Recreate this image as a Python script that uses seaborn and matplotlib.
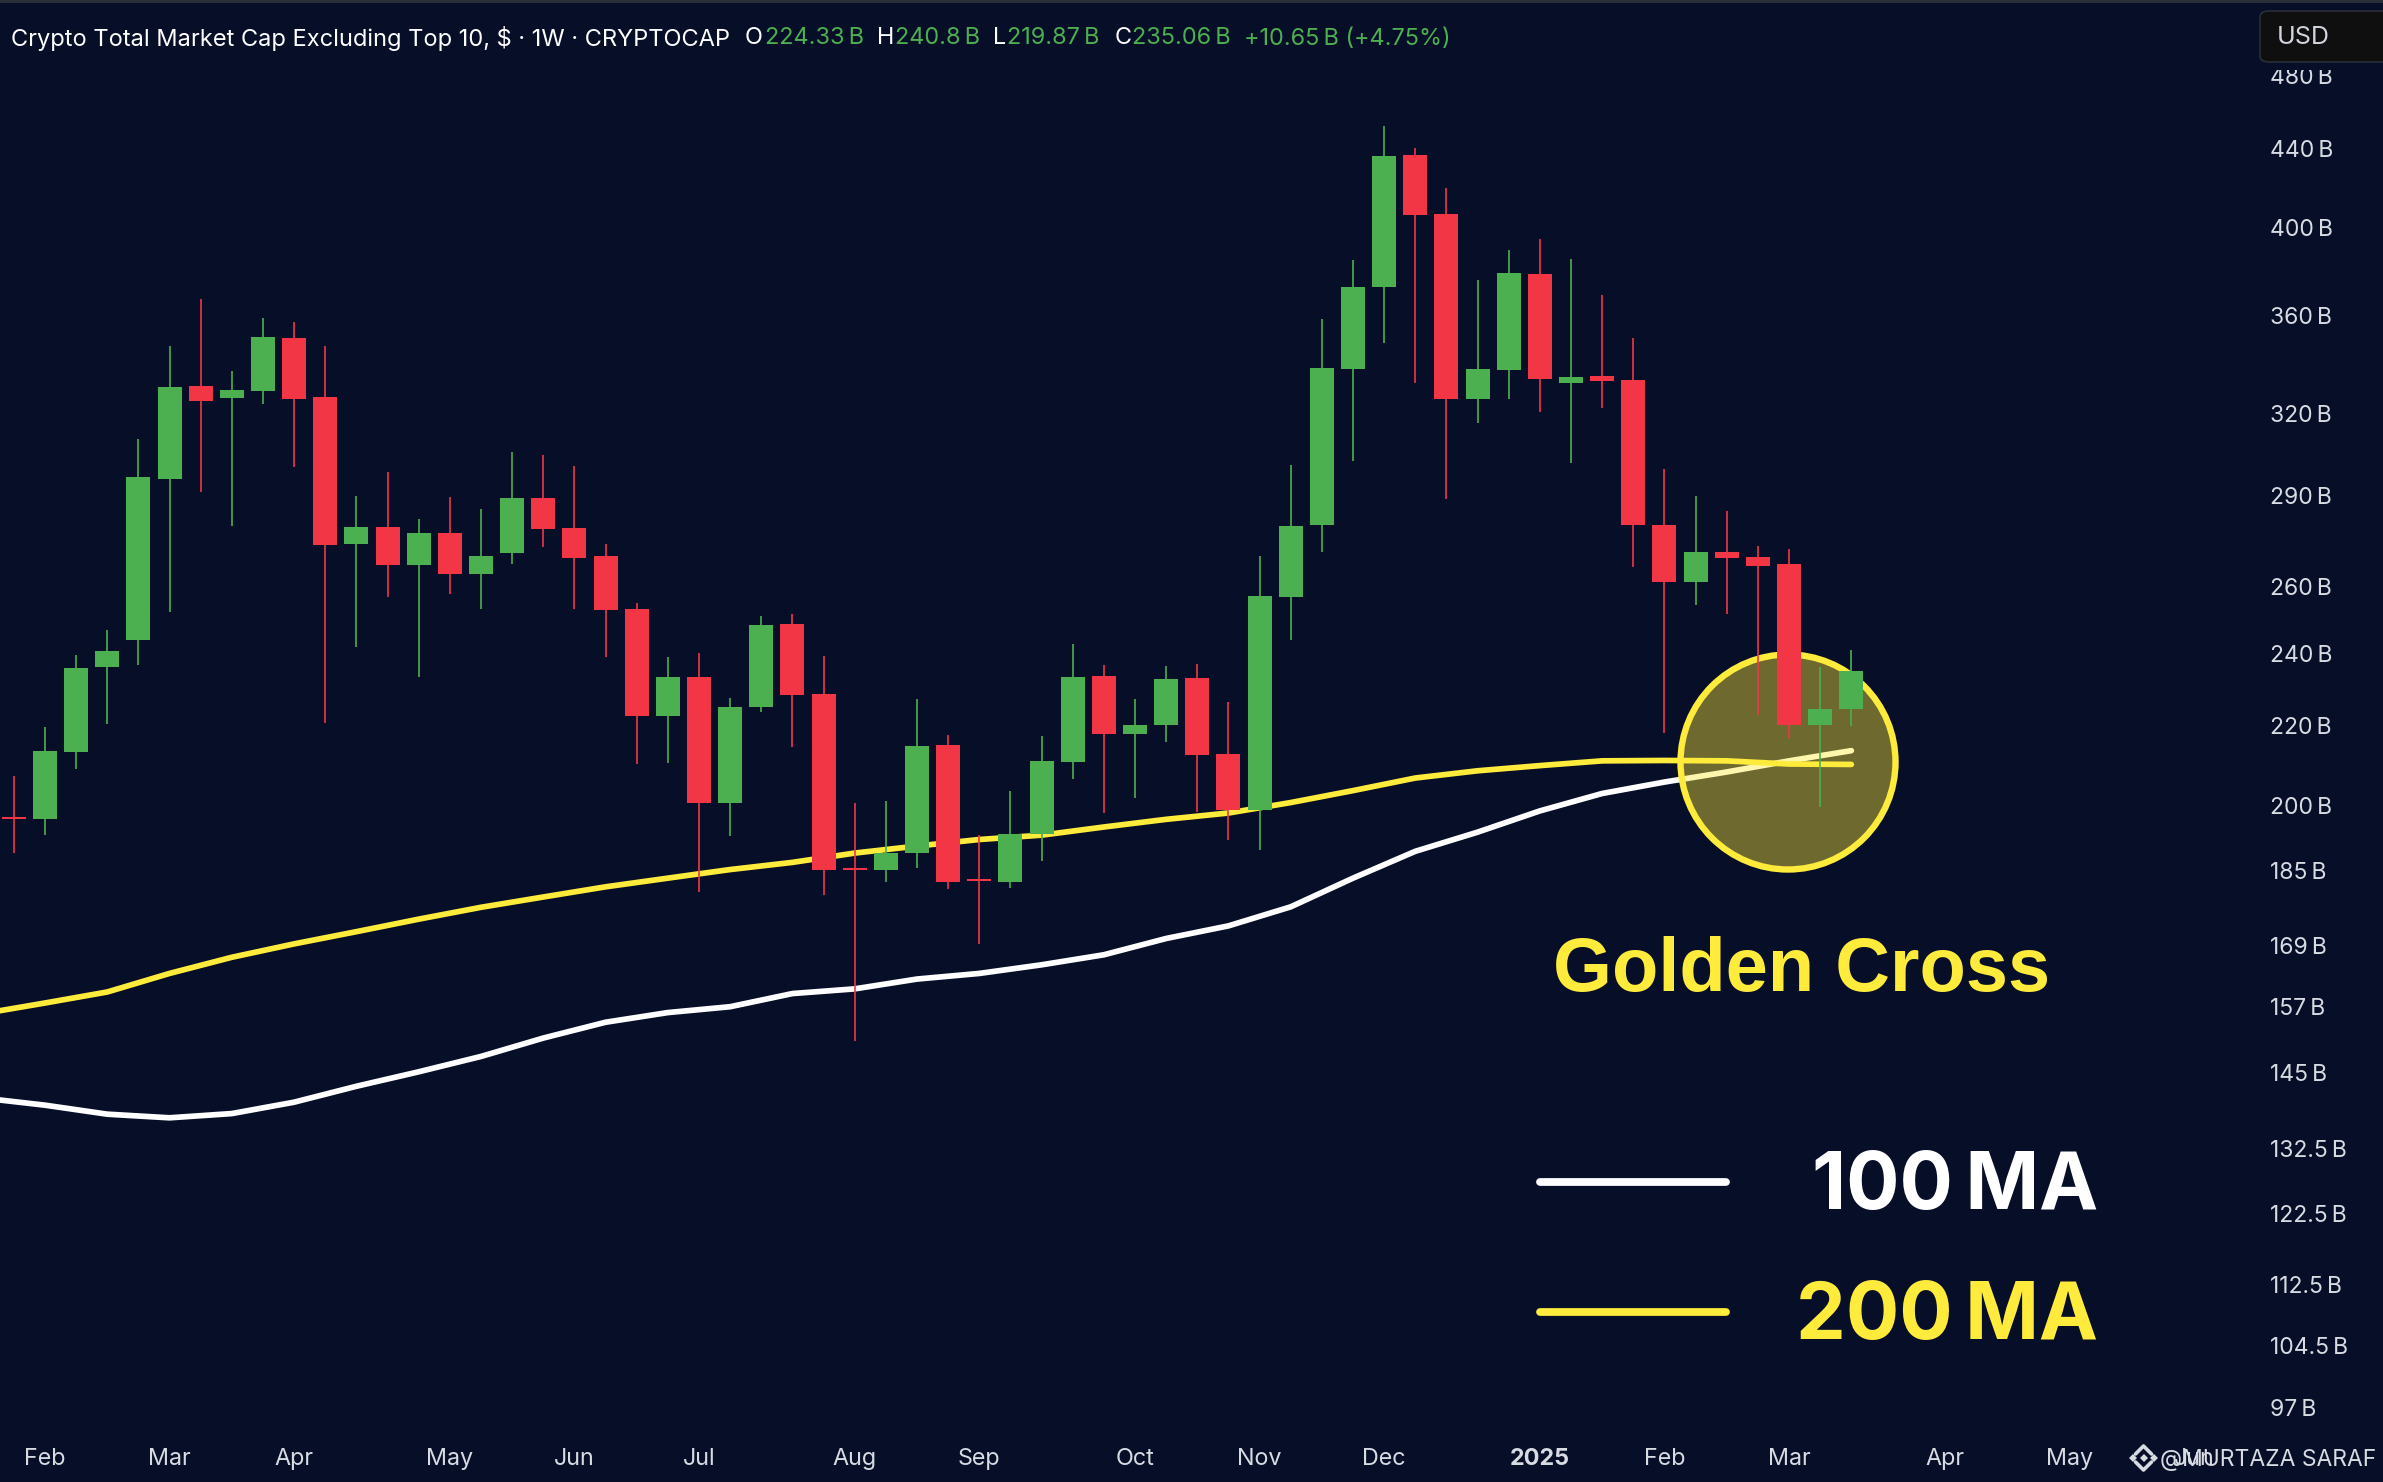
import matplotlib
matplotlib.use("Agg")
import matplotlib.pyplot as plt
from matplotlib.patches import Ellipse, FancyBboxPatch, Rectangle
import pandas as pd
import seaborn as sns

W, H = 2383, 1482

# weekly candles in billions of USD, starting the week of 29 Jan 2024
first_week = "2024-01-29"
opens = [197.2, 196.7, 213.2, 236.1, 243.9, 295.8, 330.8, 326.1, 328.9, 350.3,
         326.5, 273.6, 279.4, 266.8, 277.3, 264.0, 270.8, 289.1, 279.0, 269.8,
         253.0, 222.6, 233.3, 200.4, 224.9, 248.5, 228.5, 185.4, 184.9, 188.8,
         214.9, 183.0, 182.3, 193.1, 210.7, 233.5, 217.8, 220.1, 232.9, 212.7,
         198.8, 256.8, 279.9, 337.6, 372.6, 436.4, 406.6, 325.7, 337.2, 378.3,
         332.0, 334.8, 333.1, 279.9, 261.5, 271.0, 269.4, 267.2, 220.2, 224.33]
closes = [196.6, 213.4, 235.8, 240.6, 296.5, 330.4, 325.0, 329.3, 350.8, 325.7,
          273.2, 279.4, 266.8, 277.3, 264.0, 269.8, 289.1, 278.6, 269.0, 252.9,
          222.6, 233.3, 200.4, 224.9, 248.3, 228.3, 184.9, 184.9, 188.8, 214.7,
          182.3, 182.6, 193.1, 210.9, 233.3, 217.8, 220.1, 232.7, 212.4, 198.8,
          257.0, 279.5, 338.0, 372.6, 436.0, 406.2, 325.7, 337.6, 378.8, 333.5,
          334.5, 332.8, 279.9, 261.5, 271.0, 269.0, 266.4, 220.2, 224.4, 235.06]
highs = [207.2, 219.7, 239.5, 246.8, 310.3, 347.1, 367.2, 336.8, 359.0, 357.2,
         347.1, 289.8, 298.2, 281.9, 289.6, 285.5, 305.5, 304.5, 300.5, 273.6,
         254.9, 238.9, 240.0, 227.4, 250.9, 251.5, 239.1, 200.6, 201.0, 227.1,
         217.5, 192.9, 203.4, 217.4, 242.7, 236.6, 227.1, 236.4, 236.8, 226.4,
         269.7, 300.7, 358.5, 384.8, 451.7, 440.2, 419.5, 375.7, 389.6, 394.6,
         385.3, 369.0, 350.4, 299.4, 289.8, 284.6, 273.0, 272.0, 236.0, 240.8]
lows = [188.9, 193.0, 208.9, 220.5, 236.7, 252.1, 291.1, 279.6, 323.7, 300.0,
        220.7, 241.9, 256.7, 233.1, 257.6, 253.1, 267.2, 272.6, 253.1, 238.9,
        210.0, 210.3, 180.2, 192.6, 223.6, 214.5, 179.6, 150.6, 182.4, 185.4,
        180.8, 169.3, 181.1, 187.0, 206.4, 198.0, 201.7, 215.6, 198.4, 191.8,
        189.5, 243.8, 271.0, 302.3, 348.4, 332.0, 288.7, 316.4, 325.7, 320.5,
        301.6, 322.2, 266.3, 218.2, 254.4, 251.6, 222.9, 216.7, 199.6, 219.87]

# moving averages, read every second week starting 22 Jan 2024
ma_start = "2024-01-22"
ma_100 = [140.7, 139.5, 138.0, 137.4, 138.1, 140.0, 142.7, 145.2, 147.9, 151.2, 154.1,
          155.9, 157.0, 159.5, 160.4, 162.3, 163.4, 165.1, 167.1, 170.4, 173.0,
          177.0, 183.2, 189.2, 193.6, 198.6, 202.8, 205.6, 208.1, 210.9, 213.5]
ma_200 = [155.7, 157.7, 159.8, 163.4, 166.6, 169.3, 171.8, 174.4, 176.9, 179.1, 181.3,
          183.2, 185.1, 186.7, 188.8, 190.4, 191.9, 192.9, 194.8, 196.6, 198.1,
          200.6, 203.5, 206.6, 208.4, 209.7, 210.9, 211.0, 210.9, 210.1, 210.0]

price_ticks = [480, 440, 400, 360, 320, 290, 260, 240, 220, 200, 185, 169,
               157, 145, 132.5, 122.5, 112.5, 104.5, 97]
month_ticks = ["2024-02-05", "2024-03-04", "2024-04-01", "2024-05-06", "2024-06-03",
               "2024-07-01", "2024-08-05", "2024-09-02", "2024-10-07", "2024-11-04",
               "2024-12-02", "2025-01-06", "2025-02-03", "2025-03-03", "2025-04-07",
               "2025-05-05", "2025-06-02"]
month_labels = ["Feb", "Mar", "Apr", "May", "Jun", "Jul", "Aug", "Sep", "Oct", "Nov",
                "Dec", "2025", "Feb", "Mar", "Apr", "May", "Jun"]

BG = "#060e28"
UP = "#4caf50"
DOWN = "#f23645"
GOLD = "#ffeb3b"
AXIS_TEXT = "#d8dbe2"

sns.set_style("dark", {"axes.facecolor": BG, "figure.facecolor": BG})
plt.rcParams["font.family"] = ["Inter", "DejaVu Sans"]

weeks = pd.date_range(first_week, periods=len(opens), freq="7D")
candles = pd.DataFrame({"week": weeks, "open": opens, "close": closes, "high": highs, "low": lows})
candles["colour"] = [UP if c >= o else DOWN for o, c in zip(opens, closes)]
candles["top"] = candles[["open", "close"]].max(axis=1)
candles["bottom"] = candles[["open", "close"]].min(axis=1)
averages = pd.DataFrame({"week": pd.date_range(ma_start, periods=len(ma_100), freq="14D"),
                         "ma_100": ma_100, "ma_200": ma_200})

fig = plt.figure(figsize=(W / 100, H / 100), dpi=100)
ax = fig.add_axes([0, 0, 1, 1])


def pt(x, y):
    return x / W, 1 - y / H


def put(x, y, text, **kw):
    kw.setdefault("family", ["Inter", "DejaVu Sans"])
    kw.setdefault("va", "center")
    return ax.text(*pt(x, y), text, transform=ax.transAxes, **kw)


# moving averages sit under the circle, candles sit over it
sns.lineplot(data=averages, x="week", y="ma_100", color="white", lw=4.1, ax=ax, zorder=2,
             solid_capstyle="round")
sns.lineplot(data=averages, x="week", y="ma_200", color=GOLD, lw=4.1, ax=ax, zorder=2.1,
             solid_capstyle="round")

ax.add_patch(Ellipse(pt(1788, 762), 215 / W, 215 / H, transform=ax.transAxes,
                     facecolor=GOLD + "6a", edgecolor=GOLD, lw=4.6, zorder=3))

ax.vlines(candles["week"], candles["low"], candles["high"], colors=candles["colour"], lw=1.2, zorder=4)
# dojis still need a visible body
ax.bar(candles["week"], candles["top"] - candles["bottom"], bottom=candles["bottom"],
       width=5.4, color=candles["colour"], linewidth=0, zorder=5)

ax.set_yscale("log")
ax.set_ylim(88.74, 525.7)
ax.set_xlim(weeks[0] - pd.Timedelta(days=3.1), weeks[0] + pd.Timedelta(days=532.5))
ax.set_xlabel("")
ax.set_ylabel("")
ax.minorticks_off()
ax.set_yticks(price_ticks)
ax.set_yticklabels([f"{p:g}\u2009B" for p in price_ticks])
ax.yaxis.set_minor_locator(plt.NullLocator())
ax.set_xticks(pd.to_datetime(month_ticks))
ax.set_xticklabels(month_labels)
ax.tick_params(axis="y", length=0, labelleft=False, labelright=True, pad=-81,
               labelsize=16.5, labelcolor=AXIS_TEXT)
ax.tick_params(axis="x", length=0, pad=-24.5, labelsize=16.8, labelcolor=AXIS_TEXT)
ax.get_xticklabels()[11].set_fontweight("bold")
ax.grid(False)
for side in ax.spines.values():
    side.set_visible(False)

# header strip
ax.add_patch(Rectangle(pt(0, 3), 1, 3 / H, transform=ax.transAxes, color="#2a2e39", lw=0, zorder=9))
put(11, 38.5, "Crypto Total Market Cap Excluding Top 10, $ · 1W · CRYPTOCAP", color="white", fontsize=17)
for x, text, col in [(745, "O", "white"), (765, "224.33\u2009B", UP), (877, "H", "white"),
                     (895, "240.8\u2009B", UP), (993, "L", "white"), (1007, "219.87\u2009B", UP),
                     (1115, "C", "white"), (1132, "235.06\u2009B", UP),
                     (1244, "+10.65\u2009B (+4.75%)", UP)]:
    put(x, 38.5, text, color=col, fontsize=16.9)

# currency box covers the top of the 480 B label
ax.add_patch(Rectangle(pt(2255, 70), 128 / W, 10 / H, transform=ax.transAxes, color=BG, lw=0, zorder=9.5))
ax.add_patch(FancyBboxPatch(pt(2260, 62), 132 / W, 51 / H, transform=ax.transAxes,
                            boxstyle="round,pad=0,rounding_size=0.004", facecolor="#0f0f0f",
                            edgecolor="#2a2e39", lw=1.2, zorder=10))
put(2277, 37, "USD", color="#d1d4dc", fontsize=18, zorder=11)

# annotations
put(1553, 991, "Golden Cross", color=GOLD, fontsize=54.5, fontweight="bold",
    family="Liberation Sans", va="baseline")
put(2098, 1209, "100\u2009MA", color="white", fontsize=57, fontweight="bold", va="baseline", ha="right")
put(2098, 1339, "200\u2009MA", color=GOLD, fontsize=57, fontweight="bold", va="baseline", ha="right")
ax.plot(*zip(pt(1540, 1181.5), pt(1726, 1181.5)), color="white", lw=5.6, transform=ax.transAxes,
        solid_capstyle="round")
ax.plot(*zip(pt(1540, 1312), pt(1726, 1312)), color=GOLD, lw=5.6, transform=ax.transAxes,
        solid_capstyle="round")

# watermark and small logo
put(2160, 1460, "@MURTAZA SARAF", color=AXIS_TEXT, fontsize=16.5, zorder=8)
lx, ly = 2143.5, 1458
for dx, dy in [(0, 0), (-10.5, 0), (10.5, 0)]:
    ax.plot(*pt(lx + dx, ly + dy), marker="D", ms=4.2, color=AXIS_TEXT, mew=0, transform=ax.transAxes)
for sign in (-1, 1):
    ax.plot(*zip(pt(lx - 8, ly + sign * 4), pt(lx, ly + sign * 12), pt(lx + 8, ly + sign * 4)),
            color=AXIS_TEXT, lw=2.6, transform=ax.transAxes)

fig.savefig("out.png", dpi=100, facecolor=BG)
